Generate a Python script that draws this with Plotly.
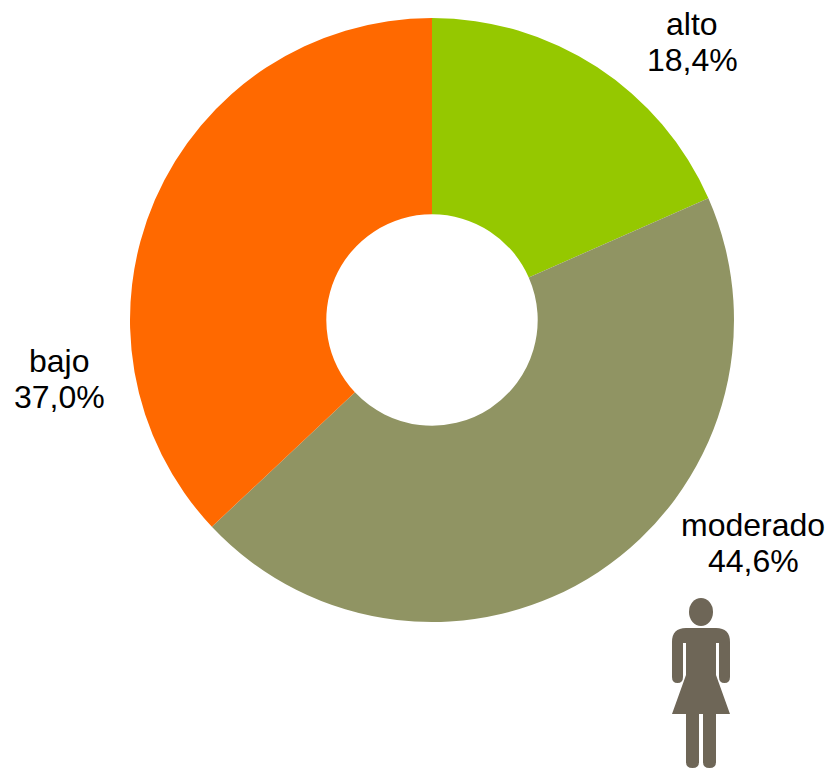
import plotly.graph_objects as go

categories = ["alto", "moderado", "bajo"]
values = [18.4, 44.6, 37.0]
colors = ["#95C800", "#909463", "#FF6900"]
label_lines = ["alto", "18,4%", "moderado", "44,6%", "bajo", "37,0%"]
label_xy = [(692, 24), (692, 60), (753, 525), (753, 561), (59, 361), (59, 397)]
W, H = 831, 769
cx, cy, R = 432, 320, 302
icon = "#6E6657"

fig = go.Figure(go.Pie(labels=categories, values=values, hole=0.35, sort=False,
    direction="clockwise", rotation=0, textinfo="none", hoverinfo="label+percent",
    marker=dict(colors=colors, line=dict(width=0)),
    domain=dict(x=[(cx-R)/W, (cx+R)/W], y=[1-(cy+R)/H, 1-(cy-R)/H]), showlegend=False))

annots = [dict(x=x/W, y=1-y/H, xref="paper", yref="paper", text=t, showarrow=False,
               xanchor="center", yanchor="middle",
               font=dict(family="Liberation Sans", size=32, color="#000000"), align="center")
          for t, (x, y) in zip(label_lines, label_xy)]

def px(x, y):
    return x/W, 1-y/H

def svg(cmds):
    out = []
    for c in cmds:
        pts = " ".join("%.5f,%.5f" % px(*p) for p in c[1:])
        out.append(c[0] + " " + pts)
    return " ".join(out) + " Z"

def shape(cmds):
    return dict(type="path", xref="paper", yref="paper", path=svg(cmds), fillcolor=icon, line=dict(width=0))

a, b = px(689, 598); c, d = px(713, 626)
body = [("M", (686, 628)), ("L", (716, 628)), ("Q", (730, 628), (730, 642)), ("L", (730, 677)),
        ("Q", (730, 683), (724.5, 683)), ("Q", (719, 683), (719, 677)), ("L", (719, 643)), ("L", (716, 643)),
        ("L", (716, 675)), ("L", (730, 714)), ("L", (716, 714)), ("L", (716, 762)),
        ("Q", (716, 768), (709.5, 768)), ("Q", (703, 768), (703, 762)), ("L", (703, 714)), ("L", (699, 714)),
        ("L", (699, 762)), ("Q", (699, 768), (692.5, 768)), ("Q", (686, 768), (686, 762)), ("L", (686, 714)),
        ("L", (672, 714)), ("L", (686, 675)), ("L", (686, 643)), ("L", (683, 643)), ("L", (683, 677)),
        ("Q", (683, 683), (677.5, 683)), ("Q", (672, 683), (672, 677)), ("L", (672, 642)), ("Q", (672, 628), (686, 628))]
shapes = [dict(type="circle", xref="paper", yref="paper", x0=a, y0=b, x1=c, y1=d, fillcolor=icon, line=dict(width=0)),
          shape(body)]

fig.update_layout(width=W, height=H, margin=dict(l=0, r=0, t=0, b=0), paper_bgcolor="white",
                  annotations=annots, shapes=shapes)
fig.write_html("out.html", config={"displayModeBar": False},
               post_script="document.body.style.margin='0';document.documentElement.style.overflow='hidden';")
